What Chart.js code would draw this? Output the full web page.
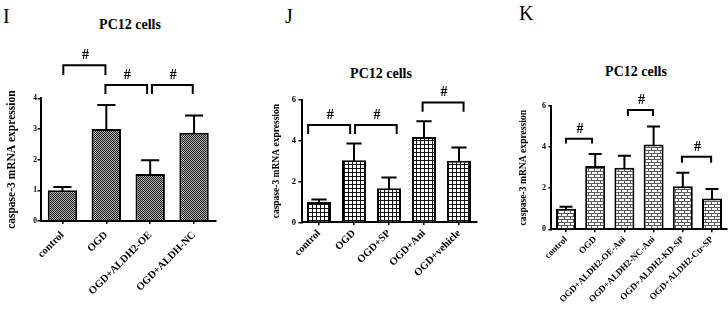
<!DOCTYPE html>
<html><head><meta charset="utf-8">
<script src="https://cdn.jsdelivr.net/npm/chart.js@4.4.1/dist/chart.umd.min.js"></script>
<style>
html,body{margin:0;padding:0;background:#fff;width:728px;height:317px;overflow:hidden;position:relative;}
canvas{position:absolute;top:0;}
.lbl{position:absolute;font-family:"Liberation Serif",serif;color:#000;white-space:nowrap;}
.letter{font-size:20px;line-height:20px;}
.title{font-size:14px;line-height:14px;font-weight:bold;transform:translateX(-50%);}
</style></head><body>
<div class="lbl letter" style="left:3px;top:6px">I</div>
<div class="lbl letter" style="left:285px;top:6px">J</div>
<div class="lbl letter" style="left:519px;top:3px">K</div>
<div class="lbl title" style="left:130px;top:18px">PC12 cells</div>
<div class="lbl title" style="left:381px;top:67px">PC12 cells</div>
<div class="lbl title" style="left:636px;top:65px">PC12 cells</div>
<canvas id="cI" width="240" height="317" style="left:0px"></canvas>
<canvas id="cJ" width="240" height="317" style="left:240px"></canvas>
<canvas id="cK" width="248" height="317" style="left:480px"></canvas>
<script>
// ---------- data ----------
const yTitle = 'caspase-3 mRNA expression';

const categoriesI = ['control', 'OGD', 'OGD+ALDH2-OE', 'OGD+ALDH-NC'];
const meanI = [1.0, 3.0, 1.53, 2.88];
const sdI = [0.11, 0.78, 0.45, 0.56];
// [from category, to category, bracket top, leg bottom] in data units
const sigI = [[0.02, 0.98, 5.08, 4.76], [0.98, 1.93, 4.43, 4.14], [2.04, 2.97, 4.43, 4.14]];

const categoriesJ = ['control', 'OGD', 'OGD+SP', 'OGD+Ani', 'OGD+vehicle'];
const meanJ = [1.0, 3.05, 1.67, 4.18, 3.02];
const sdJ = [0.12, 0.82, 0.53, 0.78, 0.65];
const sigJ = [[-0.31, 0.89, 4.77, 4.33], [1.03, 2.22, 4.77, 4.33], [2.96, 4.13, 5.88, 5.42]];

const categoriesK = ['control', 'OGD', 'OGD+ALDH2-OE-Ani', 'OGD+ALDH2-NC-Ani', 'OGD+ALDH2-KD-SP', 'OGD+ALDH2-Ctr-SP'];
const meanK = [1.0, 3.08, 3.0, 4.13, 2.1, 1.5];
const sdK = [0.1, 0.58, 0.58, 0.87, 0.65, 0.46];
const sigK = [[0.0, 0.89, 4.41, 4.18], [2.12, 2.98, 5.8, 5.51], [3.97, 4.97, 3.53, 3.24]];

const ticksI = {max: 4, step: 1};
const ticksJ = {max: 6, step: 2};
const ticksK = {max: 6, step: 2};

// ---------- patterns ----------
function makePattern(w, h, draw) {
  const c = document.createElement('canvas');
  c.width = w; c.height = h;
  const g = c.getContext('2d');
  draw(g);
  return document.createElement('canvas').getContext('2d').createPattern(c, 'repeat');
}
const patChecker = makePattern(2, 2, g => {
  g.fillStyle = '#b4b4b4'; g.fillRect(0, 0, 2, 2);
  g.fillStyle = '#1c1c1c'; g.fillRect(0, 0, 1, 1); g.fillRect(1, 1, 1, 1);
});
const patGrid = makePattern(4, 4, g => {
  g.fillStyle = '#ffffff'; g.fillRect(0, 0, 4, 4);
  g.fillStyle = '#111111'; g.fillRect(0, 0, 4, 1); g.fillRect(0, 0, 1, 4);
});
const patBrick = makePattern(6, 6, g => {
  g.fillStyle = '#ffffff'; g.fillRect(0, 0, 6, 6);
  g.fillStyle = '#5a5a5a';
  g.fillRect(0, 0, 6, 1); g.fillRect(0, 3, 6, 1);
  g.fillRect(0, 1, 1, 2); g.fillRect(3, 4, 1, 2);
});

// ---------- annotation plugin (error bars + significance brackets) ----------
const annot = {
  id: 'annot',
  afterDatasetsDraw(chart, args, o) {
    const ctx = chart.ctx, meta = chart.getDatasetMeta(0);
    const xs = chart.scales.x, ys = chart.scales.y;
    const means = chart.data.datasets[0].data;
    ctx.save();
    ctx.strokeStyle = '#000'; ctx.lineWidth = 2; ctx.lineCap = 'square';
    o.err.forEach((e, i) => {
      const bar = meta.data[i];
      const x = bar.x, y1 = ys.getPixelForValue(means[i] + e);
      const half = bar.width * o.cap / 2;
      ctx.beginPath();
      ctx.moveTo(x, bar.y); ctx.lineTo(x, y1);
      ctx.moveTo(x - half, y1); ctx.lineTo(x + half, y1);
      ctx.stroke();
    });
    ctx.lineCap = 'butt';
    ctx.fillStyle = '#000';
    ctx.font = 'bold 14px "Liberation Serif", serif';
    ctx.textAlign = 'center'; ctx.textBaseline = 'alphabetic';
    o.sig.forEach(b => {
      const xa = xs.getPixelForValue(b[0]), xb = xs.getPixelForValue(b[1]);
      const yt = ys.getPixelForValue(b[2]), yl = ys.getPixelForValue(b[3]);
      ctx.beginPath();
      ctx.moveTo(xa, yl); ctx.lineTo(xa, yt); ctx.lineTo(xb, yt); ctx.lineTo(xb, yl);
      ctx.stroke();
      ctx.fillText('#', (xa + xb) / 2 + 1, yt - 6);
    });
    ctx.restore();
  }
};

const FAM = '"Liberation Serif", serif';
function makeChart(id, cats, means, sds, sig, tk, cfg) {
  return new Chart(document.getElementById(id), {
    type: 'bar',
    data: {labels: cats, datasets: [{
      data: means, backgroundColor: cfg.pattern, borderColor: '#000', borderWidth: 2,
      borderSkipped: 'start', barPercentage: cfg.barPct, categoryPercentage: 1
    }]},
    options: {
      responsive: false, animation: false, devicePixelRatio: 1,
      layout: {padding: {top: cfg.top, left: cfg.padLeft, right: cfg.padRight, bottom: 0}},
      plugins: {legend: {display: false}, tooltip: {enabled: false}, title: {display: false},
        annot: {err: sds, sig: sig, cap: 0.55}},
      scales: {
        x: {
          offset: true,
          grid: {display: true, offset: false, drawOnChartArea: false, drawTicks: true, tickLength: 3, color: '#000', lineWidth: 1.5},
          border: {display: true, color: '#000', width: 2},
          ticks: {autoSkip: false, maxRotation: 45, minRotation: 45, color: '#000', padding: cfg.xPad,
            font: {family: FAM, size: cfg.xFont, weight: 'bold'}},
          afterFit: s => { s.height = cfg.xHeight; }
        },
        y: {
          min: 0, max: tk.max,
          grid: {display: true, drawOnChartArea: false, drawTicks: true, tickLength: 3, color: '#000', lineWidth: 1.5},
          border: {display: true, color: '#000', width: 2},
          ticks: {stepSize: tk.step, color: '#000', padding: cfg.yPad, font: {family: FAM, size: cfg.yFont, weight: 'bold'}},
          title: {display: true, text: yTitle, color: '#000', padding: {top: 0, bottom: 0},
            font: {family: FAM, size: cfg.yTitleFont, weight: 'bold'}},
          afterFit: s => { s.width = cfg.yWidth; }
        }
      }
    },
    plugins: [annot]
  });
}

makeChart('cI', categoriesI, meanI, sdI, sigI, ticksI, {
  pattern: patChecker, barPct: 0.67, top: 98.3, padLeft: 5.6, yWidth: 34.9, padRight: 24,
  xHeight: 96, xFont: 10.5, xPad: 5, yFont: 7.5, yPad: 0.5, yTitleFont: 11.5
});
makeChart('cJ', categoriesJ, meanJ, sdJ, sigJ, ticksJ, {
  pattern: patGrid, barPct: 0.686, top: 100, padLeft: 31.3, yWidth: 30.2, padRight: 3.5,
  xHeight: 94.7, xFont: 10.5, xPad: 2, yFont: 8.5, yPad: 2.5, yTitleFont: 9.5
});
makeChart('cK', categoriesK, meanK, sdK, sigK, ticksK, {
  pattern: patBrick, barPct: 0.685, top: 106, padLeft: 38.2, yWidth: 33.2, padRight: 1.4,
  xHeight: 87.7, xFont: 9, xPad: 2, yFont: 8, yPad: 2.5, yTitleFont: 9.6
});
</script>
</body></html>
